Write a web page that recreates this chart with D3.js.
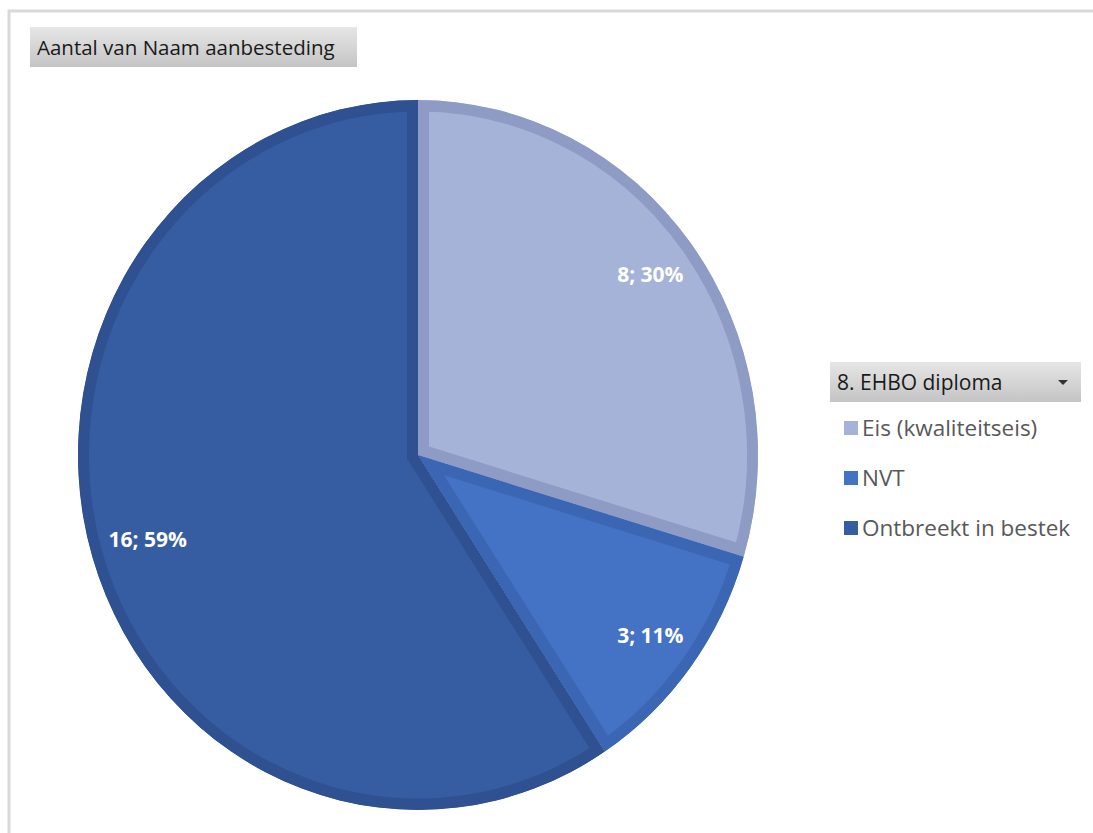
<!DOCTYPE html>
<html lang="en">

<head>
    <meta charset="utf-8">
    <style>
        body { margin: 0; background: #fff; }
        text { font-family: "Open Sans", "Liberation Sans", sans-serif; }
    </style>
</head>

<body>

    <script type='text/javascript' src='https://d3js.org/d3.v7.min.js'></script>

    <svg width="1093" height="833"></svg>

    <script>
        // data
        var categories = ["Eis (kwaliteitseis)", "NVT", "Ontbreekt in bestek"];
        var values = [8, 3, 16];
        var fieldTitle = "Aantal van Naam aanbesteding";
        var legendTitle = "8. EHBO diploma";

        var fills = ["#a6b3d8", "#4472c4", "#365ca1"];
        var borders = ["#8e9cc5", "#3a66b4", "#2f5191"];

        var svg = d3.select("svg");
        var total = d3.sum(values);

        // chart area frame
        svg.append("path")
            .attr("d", "M9,833 V11 H1093")
            .attr("fill", "none")
            .attr("stroke", "#d9d9d9")
            .attr("stroke-width", 3);

        var defs = svg.append("defs");
        var grad = defs.append("linearGradient")
            .attr("id", "btn")
            .attr("x1", 0).attr("y1", 0).attr("x2", 0).attr("y2", 1);
        grad.append("stop").attr("offset", "0%").attr("stop-color", "#e6e6e6");
        grad.append("stop").attr("offset", "100%").attr("stop-color", "#c4c4c4");

        // field button top left
        svg.append("rect")
            .attr("x", 30).attr("y", 27)
            .attr("width", 327).attr("height", 40)
            .attr("fill", "url(#btn)");
        svg.append("text")
            .attr("x", 37).attr("y", 55)
            .attr("font-size", "20.5px")
            .attr("fill", "#1a1a1a")
            .text(fieldTitle);

        // pie, drawn as a slightly stretched circle like the original
        var cx = 418, cy = 455;
        var rx = 340, ry = 355;
        var g = svg.append("g")
            .attr("transform", "translate(" + cx + "," + cy + ") scale(1," + (ry / rx) + ")");

        var pie = d3.pie().sort(null).value(function (d) { return d; });
        var arcs = pie(values);
        var arc = d3.arc().innerRadius(0).outerRadius(rx);

        arcs.forEach(function (d, i) {
            defs.append("clipPath")
                .attr("id", "clip" + i)
                .append("path")
                .attr("d", arc(d));
        });

        g.selectAll(".slice")
            .data(arcs)
            .enter().append("path")
            .attr("class", "slice")
            .attr("d", arc)
            .attr("clip-path", function (d, i) { return "url(#clip" + i + ")"; })
            .attr("fill", function (d, i) { return fills[i]; })
            .attr("stroke", function (d, i) { return borders[i]; })
            .attr("stroke-width", 22)
            .attr("stroke-linejoin", "miter");

        // labels: pushed out until the text box sits a fixed gap inside the edge
        var inset = 17;
        svg.selectAll(".lbl")
            .data(arcs)
            .enter().append("text")
            .attr("class", "lbl")
            .attr("text-anchor", "middle")
            .attr("dy", "0.35em")
            .attr("font-size", "21px")
            .attr("font-weight", "bold")
            .attr("fill", "#ffffff")
            .text(function (d) {
                return d.value + "; " + Math.round(d.value / total * 100) + "%";
            })
            .each(function (d) {
                var bb = this.getBBox();
                var a = (d.startAngle + d.endAngle) / 2;
                var s = Math.sin(a), c = Math.cos(a);
                var ext = bb.width / 2 * Math.abs(s) + bb.height * 0.4 * Math.abs(c);
                var r = rx - inset - ext;
                d3.select(this)
                    .attr("x", cx + r * s)
                    .attr("y", cy - r * c * ry / rx);
            });

        // legend with its field button
        var lg = svg.append("g").attr("transform", "translate(830,362)");
        lg.append("rect")
            .attr("width", 251).attr("height", 40)
            .attr("fill", "url(#btn)");
        lg.append("text")
            .attr("x", 7).attr("y", 28)
            .attr("font-size", "21px")
            .attr("fill", "#1a1a1a")
            .text(legendTitle);
        lg.append("path")
            .attr("d", "M228,18 L238,18 L233,23 Z")
            .attr("fill", "#333");

        var items = lg.selectAll(".item")
            .data(categories)
            .enter().append("g")
            .attr("class", "item")
            .attr("transform", function (d, i) { return "translate(14," + (59 + i * 50) + ")"; });
        items.append("rect")
            .attr("width", 14).attr("height", 14)
            .attr("fill", function (d, i) { return fills[i]; });
        items.append("text")
            .attr("x", 18).attr("y", 15)
            .attr("font-size", "22.5px")
            .attr("fill", "#595959")
            .text(function (d) { return d; });

    </script>
</body>
</html>
